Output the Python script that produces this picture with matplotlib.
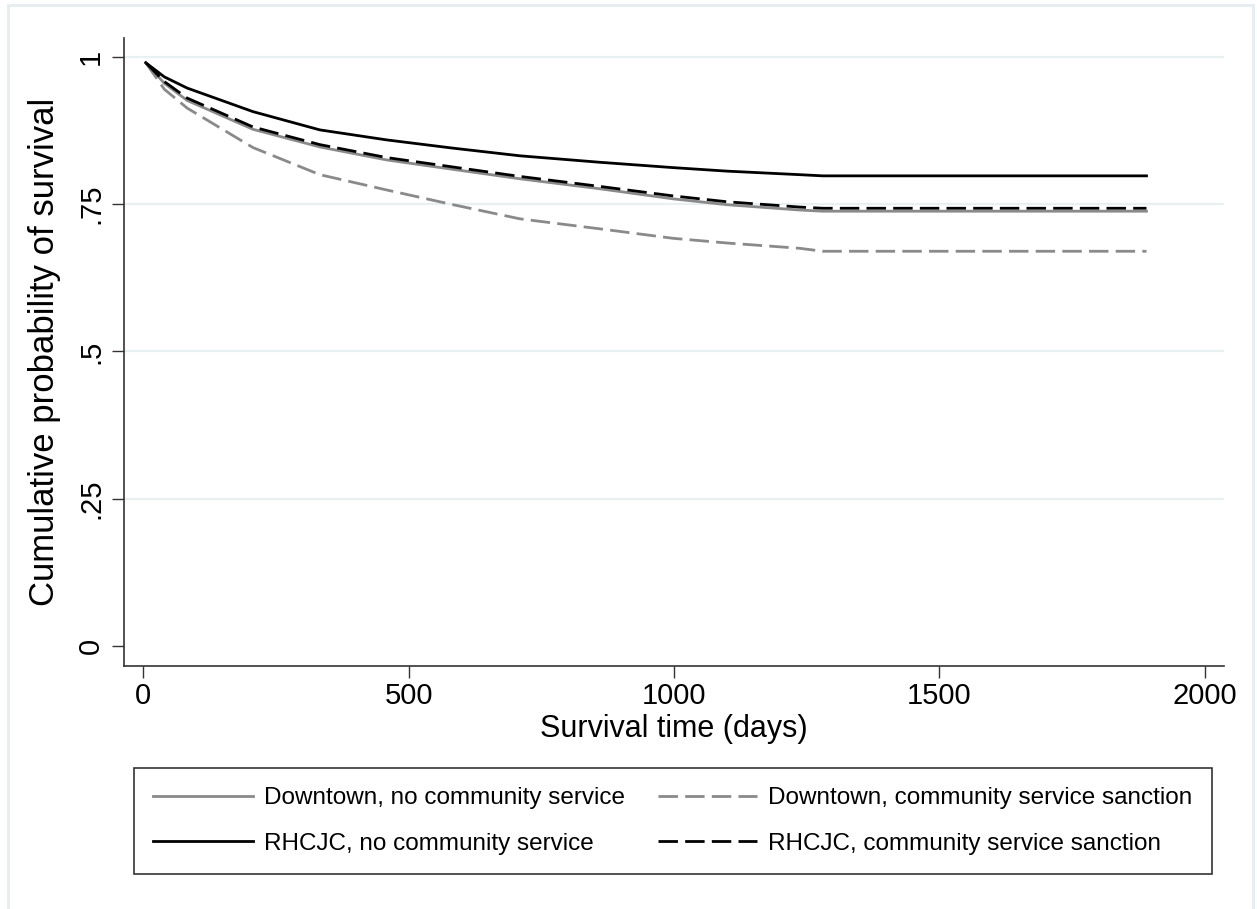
import matplotlib
matplotlib.use('Agg')
import matplotlib.pyplot as plt
from matplotlib.patches import Rectangle

plt.rcParams['font.family'] = ['Liberation Sans', 'DejaVu Sans']

# survival curves (days, cumulative survival)
days = [5, 40, 83, 207, 333, 459, 584, 710, 861, 998, 1100, 1237, 1280, 1890]
downtown_no_cs = [0.99, 0.955, 0.926, 0.877, 0.847, 0.825, 0.809, 0.793, 0.776, 0.759, 0.749, 0.740, 0.738, 0.738]
downtown_cs = [0.99, 0.945, 0.913, 0.846, 0.800, 0.774, 0.749, 0.725, 0.708, 0.692, 0.684, 0.675, 0.670, 0.670]
rhcjc_no_cs = [0.99, 0.966, 0.947, 0.907, 0.876, 0.859, 0.845, 0.832, 0.821, 0.812, 0.806, 0.800, 0.798, 0.798]
rhcjc_cs = [0.99, 0.958, 0.930, 0.881, 0.851, 0.829, 0.813, 0.797, 0.780, 0.764, 0.754, 0.745, 0.743, 0.743]

x_ticks = [0, 500, 1000, 1500, 2000]
y_ticks = [0, 0.25, 0.5, 0.75, 1]
y_tick_labels = ['0', '.25', '.5', '.75', '1']

W, H = 1257, 909
fig = plt.figure(figsize=(W / 100, H / 100), dpi=100)

# light graph-region border
fig.patches.append(Rectangle((8 / W, -0.01), (1253 - 8) / W, 1.01 - 5 / H,
                             transform=fig.transFigure, fill=False,
                             edgecolor='#e6eef1', lw=2.2, zorder=0))

ax = fig.add_axes([124 / W, 1 - 666 / H, (1224 - 124) / W, (666 - 38) / H])

gray = '#8a8a8a'
dash = (0, (7, 2.6))
ax.plot(days, downtown_no_cs, color=gray, lw=2.0, label='Downtown, no community service')
ax.plot(days, rhcjc_no_cs, color='black', lw=2.0, label='RHCJC, no community service')
ax.plot(days, downtown_cs, color=gray, lw=2.0, linestyle=dash, label='Downtown, community service sanction')
ax.plot(days, rhcjc_cs, color='black', lw=2.0, linestyle=dash, label='RHCJC, community service sanction')

ax.set_xlim(-36, 2036)
ax.set_ylim(-0.034, 1.032)
ax.set_xticks(x_ticks)
ax.set_yticks(y_ticks)
ax.set_yticklabels(y_tick_labels, rotation=90, va='center')
for y in y_ticks[1:]:
    ax.axhline(y, color='#e8f0f2', lw=1.6, zorder=0)

for s in ['top', 'right']:
    ax.spines[s].set_visible(False)
for s in ['left', 'bottom']:
    ax.spines[s].set_color('#333333')
    ax.spines[s].set_linewidth(1.2)
ax.tick_params(length=8.5, width=1.0, color='#333333', labelsize=21, pad=5)
ax.tick_params(axis='x', pad=3)

ax.set_xlabel('Survival time (days)', fontsize=22, labelpad=3)
ax.set_ylabel('Cumulative probability of survival', fontsize=25, labelpad=12)

leg = ax.legend(loc='upper left', ncol=2, mode='expand',
                bbox_to_anchor=(134 / W, 1 - 870 / H, (1212 - 134) / W, (870 - 768) / H),
                bbox_transform=fig.transFigure, fontsize=17.5, handlelength=4.1,
                handletextpad=0.45, fancybox=False, framealpha=1, borderaxespad=0,
                labelspacing=0.95, borderpad=0.8)
leg.get_frame().set_edgecolor('#333333')
leg.get_frame().set_linewidth(1.2)

fig.savefig('out.png', dpi=100)
